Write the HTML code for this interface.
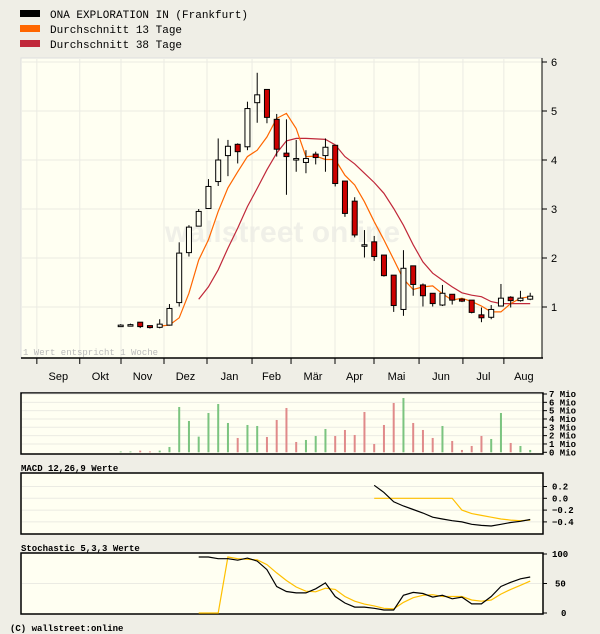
<!DOCTYPE html>
<html><head><meta charset="utf-8"><style>
html,body{margin:0;padding:0;background:#efeee6;}
svg{display:block;font-family:"Liberation Mono",monospace;}
</style></head><body>
<svg id="c" width="600" height="634" xmlns="http://www.w3.org/2000/svg">
<g>
<rect x="20" y="10" width="20" height="7" fill="#000"/>
<text x="50" y="18" font-size="11" fill="#000">ONA EXPLORATION IN (Frankfurt)</text>
<rect x="20" y="25" width="20" height="7" fill="#ff6600"/>
<text x="50" y="33" font-size="11" fill="#000">Durchschnitt 13 Tage</text>
<rect x="20" y="40" width="20" height="7" fill="#c0283a"/>
<text x="50" y="48" font-size="11" fill="#000">Durchschnitt 38 Tage</text>
</g>
<rect x="21" y="58" width="521" height="300" fill="#fffff2" stroke="#ddd"/>
<text x="165" y="242" font-size="30" font-family="Liberation Sans,sans-serif" font-weight="bold" fill="#f0f0e8">wallstreet online</text>
<g id="main"></g>
<text x="23" y="355" font-size="9" fill="#bbb">1 Wert entspricht 1 Woche</text>
<rect x="21" y="393" width="522" height="61" fill="#fffff2" stroke="#000" stroke-width="1.5"/>
<g id="vol"></g>
<text x="21" y="471" font-size="9" font-weight="bold" fill="#000">MACD 12,26,9 Werte</text>
<rect x="21" y="473" width="522" height="61" fill="#fffff2" stroke="#000" stroke-width="1.5"/>
<g id="macd"></g>
<text x="21" y="551" font-size="9" font-weight="bold" fill="#000">Stochastic 5,3,3 Werte</text>
<rect x="21" y="553" width="522" height="61" fill="#fffff2" stroke="#000" stroke-width="1.5"/>
<g id="sto"></g>
<text x="10" y="631" font-size="9" font-weight="bold" fill="#000">(C) wallstreet:online</text>
</svg>
<script>
const open_=[0.63,0.64,0.69,0.62,0.585,0.63,1.09,2.11,2.65,3.01,3.56,4.09,4.32,4.27,5.17,5.44,4.83,4.14,4.03,3.95,4.12,4.09,4.30,3.57,3.16,2.27,2.33,2.06,1.65,0.95,1.84,1.45,1.28,1.04,1.26,1.16,1.14,0.84,0.79,1.02,1.20,1.13,1.16];
const close_=[0.63,0.64,0.60,0.58,0.65,0.97,2.10,2.63,2.95,3.46,4.00,4.28,4.17,5.05,5.33,4.87,4.22,4.07,4.03,4.03,4.05,4.26,3.52,2.91,2.47,2.27,2.03,1.64,1.03,1.79,1.46,1.23,1.07,1.28,1.14,1.12,0.89,0.78,0.95,1.18,1.13,1.18,1.22];
const high_=[0.65,0.66,0.69,0.62,0.75,1.06,2.32,2.67,3.00,3.61,4.44,4.41,4.34,5.19,5.78,5.44,4.94,4.83,4.41,4.20,4.17,4.44,4.30,3.57,3.24,2.57,2.45,2.06,1.65,2.16,1.84,1.48,1.28,1.45,1.26,1.18,1.14,0.99,1.04,1.47,1.22,1.33,1.29];
const low_=[0.61,0.62,0.57,0.56,0.565,0.62,1.01,2.03,2.65,3.01,3.47,3.67,3.93,4.20,4.76,4.75,4.07,3.29,3.76,3.73,3.91,3.76,3.46,2.84,2.42,2.01,1.94,1.62,0.90,0.82,1.23,1.01,1.01,1.02,1.05,1.10,0.87,0.69,0.75,1.02,0.99,1.11,1.14];
const ma13=[null,null,null,null,0.61,0.63,0.78,1.28,1.96,2.37,2.95,3.43,3.76,4.07,4.20,4.47,4.85,4.95,4.64,4.07,4.08,4.01,4.01,3.69,3.49,3.15,2.74,2.37,1.97,1.57,1.36,1.41,1.43,1.27,1.14,1.18,1.11,1.02,0.90,0.90,1.07,1.18,1.21];
const ma38=[null,null,null,null,null,null,null,null,1.16,1.41,1.76,2.20,2.61,3.05,3.42,3.80,4.14,4.39,4.44,4.44,4.43,4.42,4.31,4.07,3.92,3.73,3.54,3.32,3.01,2.67,2.27,1.92,1.69,1.55,1.41,1.29,1.24,1.21,1.11,1.07,1.07,1.07,1.07];
const volume=[0.1,0.1,0.2,0.1,0.2,0.64,5.44,3.76,1.88,4.72,5.8,3.52,1.72,3.28,3.16,1.84,3.88,5.32,1.24,1.48,1.96,2.8,1.96,2.68,2.08,4.84,1.0,3.28,5.92,6.52,3.52,2.68,1.72,3.16,1.36,0.28,0.76,1.96,1.6,4.72,1.12,0.76,0.28];
const volUp=[1,1,0,0,1,1,1,1,1,1,1,1,0,1,1,0,0,0,0,1,1,1,0,0,0,0,0,0,0,1,0,0,0,1,0,0,0,0,1,1,0,1,1];
const macdLine=[null,null,null,null,null,null,null,null,null,null,null,null,null,null,null,null,null,null,null,null,null,null,null,null,null,null,0.22,0.10,-0.06,-0.13,-0.19,-0.25,-0.32,-0.35,-0.38,-0.40,-0.44,-0.46,-0.47,-0.44,-0.41,-0.39,-0.36];
const macdSignal=[null,null,null,null,null,null,null,null,null,null,null,null,null,null,null,null,null,null,null,null,null,null,null,null,null,null,0,0,0,0,0,0,0,0,0,-0.20,-0.26,-0.29,-0.32,-0.35,-0.37,-0.38,-0.37];
const stochK=[null,null,null,null,null,null,null,null,95,95,92,92,89.5,93,88,73.5,45,36.5,34,34,41,51,28,17,10,10,8,5,5,30,35,33,27,30,24,27,15.5,15.5,28,45,52,58,61];
const stochD=[null,null,null,null,null,null,null,null,0,0,0,95,92,91,90,82,68,55,44,37,36,42,40,28,20,15,12,8,7,18,26,30,31,28,28,28,22,20,22,32,40,47,54];
const months=["Sep","Okt","Nov","Dez","Jan","Feb","Mär","Apr","Mai","Jun","Jul","Aug"];
const monthTicks=[-8.6,-4.2,0.03,4.44,8.85,13.47,17.47,21.98,25.98,30.6,35.1,39.3,43.4];
const priceTicks=[1,2,3,4,5,6];
const volTicks=[0,1,2,3,4,5,6,7];
const macdTicks=[0.2,0.0,-0.2,-0.4];
const stoTicks=[0,50,100];

const NS="http://www.w3.org/2000/svg";
function mk(parent,tag,attrs){const e=document.createElementNS(NS,tag);for(const k in attrs)e.setAttribute(k,attrs[k]);parent.appendChild(e);return e;}
const X=i=>120.7+i*9.75;
const Y=v=>356-v*49;
const VY=v=>452.3-v*8.33;
const MY=v=>498.3-v*(11.8/0.2);
const SY=v=>613-v*0.59;
const main=document.getElementById('main');

// grid
monthTicks.forEach((t,k)=>{const x=X(t);if(x>542)return;
 let g=mk(main,'line',{x1:x,x2:x,y1:59,y2:357,stroke:'#ebebe3'});
 [[394,453],[474,533],[554,613]].forEach(r=>{let l=mk(main,'line',{x1:x,x2:x,y1:r[0],y2:r[1],stroke:'#ebebe3'});});
 let tk=mk(main,'line',{x1:x,x2:x,y1:358,y2:364,stroke:'#000'});
});
months.forEach((m,k)=>{const x=(X(monthTicks[k])+Math.min(X(monthTicks[k+1]),544))/2;
 const t=mk(main,'text',{x:x,y:380,'font-size':11,'text-anchor':'middle','font-family':'Liberation Sans,sans-serif'});t.textContent=m;
 });
priceTicks.forEach(v=>{const y=Y(v);
 let l=mk(main,'line',{x1:22,x2:541,y1:y,y2:y,stroke:'#ebebe3'});
 let tk=mk(main,'line',{x1:542,x2:547,y1:y,y2:y,stroke:'#000'});
 let t=mk(main,'text',{x:551,y:y+4,'font-size':11,'font-family':'Liberation Sans,sans-serif'});t.textContent=v;});
let ax=mk(main,'line',{x1:21,x2:543,y1:358,y2:358,stroke:'#000','stroke-width':1.5});
let ay=mk(main,'line',{x1:542,x2:542,y1:58,y2:358,stroke:'#000','stroke-width':1});

function line(parent,arr,sx,sy,color,name){let d='';arr.forEach((v,i)=>{if(v==null)return;d+=(d?'L':'M')+sx(i).toFixed(1)+','+sy(v).toFixed(1);});
 const p=mk(parent,'path',{d:d,fill:'none',stroke:color,'stroke-width':1.2});}
line(main,ma38,X,Y,'#c0283a','ma38-line');
line(main,ma13,X,Y,'#ff6600','ma13-line');
close_.forEach((c,i)=>{const o=open_[i],x=X(i);
 const w=mk(main,'line',{x1:x,x2:x,y1:Y(high_[i]),y2:Y(low_[i]),stroke:'#000','stroke-width':1});
 const top=Y(Math.max(o,c)),bot=Y(Math.min(o,c));
 const r=mk(main,'rect',{x:x-2.5,y:top,width:5,height:Math.max(bot-top,1.5),fill:c<o?'#cc0000':'#fffff2',stroke:'#000','stroke-width':1});
 });

// volume
const vol=document.getElementById('vol');
volTicks.forEach(v=>{const y=VY(v);
 if(v>0){let l=mk(vol,'line',{x1:22,x2:542,y1:y,y2:y,stroke:'#ebebe3'});}
 let tk=mk(vol,'line',{x1:543,x2:547,y1:y,y2:y,stroke:'#000'});
 let t=mk(vol,'text',{x:549,y:y+3,'font-size':9,'font-weight':'bold'});t.textContent=v+' Mio';});
volume.forEach((v,i)=>{const r=mk(vol,'rect',{x:X(i)-1,y:VY(v),width:2,height:452.3-VY(v),fill:volUp[i]?'#7bc47f':'#e08a8a'});
 });

// macd
const mc=document.getElementById('macd');
macdTicks.forEach(v=>{const y=MY(v);
 let l=mk(mc,'line',{x1:22,x2:542,y1:y,y2:y,stroke:'#ebebe3'});
 let tk=mk(mc,'line',{x1:543,x2:547,y1:y,y2:y,stroke:'#000'});
 let t=mk(mc,'text',{x:552,y:y+3,'font-size':9,'font-weight':'bold'});t.textContent=(v>0?' ':v<0?'':' ')+v.toFixed(1).replace('-','\u2212');});
line(mc,macdSignal,X,MY,'#ffc000','macd-signal-line');
line(mc,macdLine,X,MY,'#000','macd-line');

// stochastic
const st=document.getElementById('sto');
stoTicks.forEach(v=>{const y=SY(v);
 if(v==50){let l=mk(st,'line',{x1:22,x2:542,y1:y,y2:y,stroke:'#ebebe3'});}
 let tk=mk(st,'line',{x1:543,x2:547,y1:y,y2:y,stroke:'#000'});
 let t=mk(st,'text',{x:v==100?552:(v==50?555:561),y:y+3,'font-size':9,'font-weight':'bold'});t.textContent=v;});
line(st,stochD,X,SY,'#ffc000','stochastic-d-line');
line(st,stochK,X,SY,'#000','stochastic-k-line');
</script>
</body></html>
